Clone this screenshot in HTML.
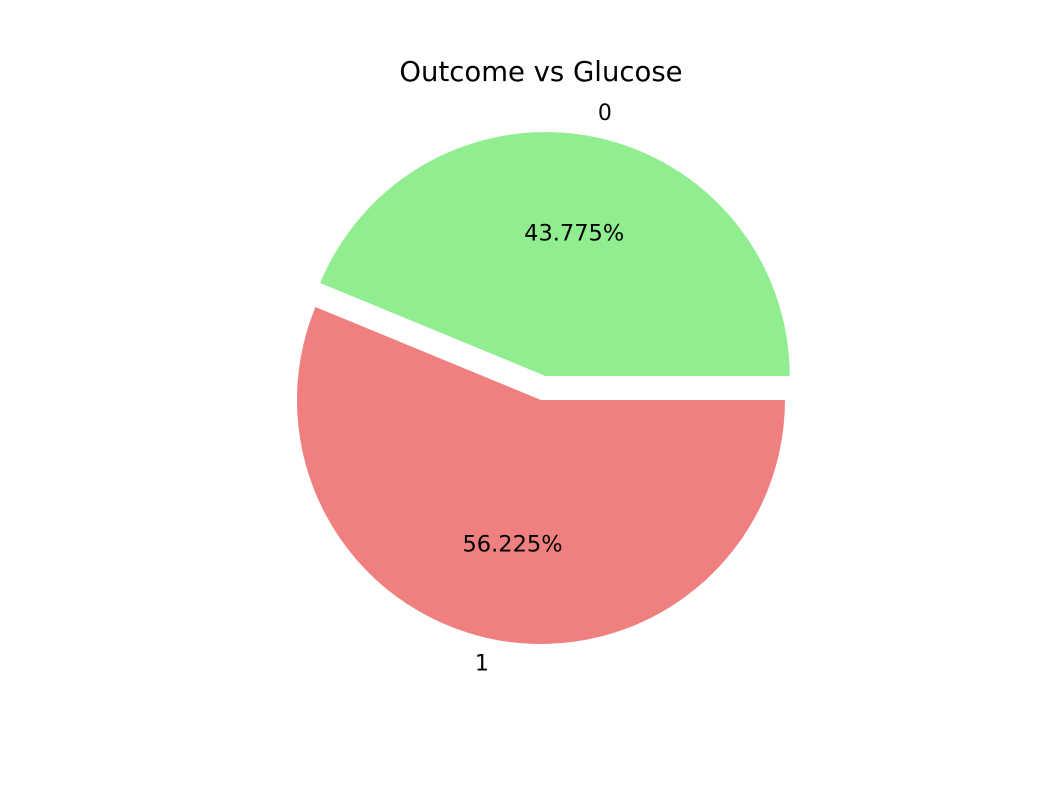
<!DOCTYPE html>
<html><head><meta charset="utf-8"><style>
html,body{margin:0;padding:0;background:#fff;}
svg{display:block;font-family:"DejaVu Sans","Liberation Sans",sans-serif;}
</style></head><body>
<svg id="chart" width="1056" height="792" viewBox="0 0 1056 792">
<rect width="1056" height="792" fill="#fff"/>
<text x="541" y="81" text-anchor="middle" font-size="27.5" fill="#000">Outcome vs Glucose</text>
<g id="slices"></g>
</svg>
<script>
const categories = ["0", "1"];
const values = [43.775, 56.225];
const pctLabels = ["43.775%", "56.225%"];
const explode = [0.1, 0];
const colors = ["#90ee90", "#f08080"];

const cx = 541, cy = 400, R = 244;
const g = document.getElementById('slices');
const NS = 'http://www.w3.org/2000/svg';
const total = values.reduce((a,b)=>a+b,0);
let start = 0;
values.forEach((v,i)=>{
  const sweep = v/total*2*Math.PI;
  const mid = start + sweep/2;
  const ox = cx + explode[i]*R*Math.cos(mid);
  const oy = cy - explode[i]*R*Math.sin(mid);
  const x1 = ox + R*Math.cos(start), y1 = oy - R*Math.sin(start);
  const x2 = ox + R*Math.cos(start+sweep), y2 = oy - R*Math.sin(start+sweep);
  const large = sweep > Math.PI ? 1 : 0;
  const p = document.createElementNS(NS,'path');
  p.setAttribute('d',`M${ox},${oy} L${x1},${y1} A${R},${R} 0 ${large} 0 ${x2},${y2} Z`);
  p.setAttribute('fill',colors[i]);
  
  
  g.appendChild(p);
  const lt = document.createElementNS(NS,'text');
  lt.setAttribute('x', ox + 1.1*R*Math.cos(mid));
  lt.setAttribute('y', oy - 1.1*R*Math.sin(mid) + 7);
  lt.setAttribute('text-anchor', Math.cos(mid) >= 0 ? 'start' : 'end');
  lt.setAttribute('font-size','22');
  lt.textContent = categories[i];
  
  
  g.appendChild(lt);
  const pt = document.createElementNS(NS,'text');
  pt.setAttribute('x', ox + 0.6*R*Math.cos(mid));
  pt.setAttribute('y', oy - 0.6*R*Math.sin(mid) + 8);
  pt.setAttribute('text-anchor','middle');
  pt.setAttribute('font-size','22.5');
  pt.textContent = pctLabels[i];
  
  
  g.appendChild(pt);
  start += sweep;
});
</script>
</body></html>
